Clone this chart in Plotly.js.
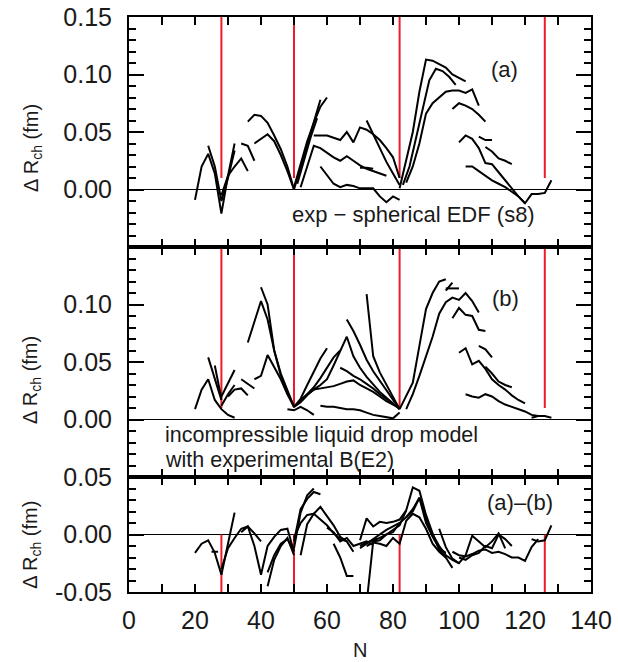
<!DOCTYPE html>
<html>
<head>
<meta charset="utf-8">
<script src="https://cdn.plot.ly/plotly-3.0.1.min.js"></script>
<style>html,body{margin:0;padding:0;background:#fff;}#chart{width:618px;height:662px;}</style>
</head>
<body>
<div id="chart"></div>
<script>
// ---------- magic numbers (red vertical lines) ----------
const magicN = [28, 50, 82, 126];

// ---------- panel (a): exp - spherical EDF (s8) ----------
const a1N = [20,22,24,26,28,30,32];            const a1V = [-0.009,0.020,0.031,0.014,-0.021,0.012,0.040];
const a2N = [24,26,28,30,32];                  const a2V = [0.038,0.020,-0.010,0.010,0.034];
const a3N = [28,30,32,34,36];                  const a3V = [-0.005,0.012,0.020,0.027,0.016];
const a4N = [34,36,38];                        const a4V = [0.040,0.038,0.025];
const a5N = [36,38,40,42,44,46,48,50];         const a5V = [0.059,0.065,0.064,0.058,0.047,0.035,0.020,0.000];
const a6N = [38,40,42,44,46,48,50];            const a6V = [0.040,0.044,0.048,0.042,0.030,0.016,0.000];
const a8N = [50,52,54,56,58];                  const a8V = [0.000,0.020,0.040,0.060,0.078];
const a9N = [50,52,54,56,58,60];               const a9V = [0.002,0.022,0.042,0.058,0.072,0.080];
const a10N = [51,53,55,57];                    const a10V = [0.005,0.025,0.045,0.062];
const a11N = [52,54,56,58,60,62,64,66,68,70,72,74,76,78];
const a11V = [0.002,0.020,0.038,0.036,0.032,0.028,0.025,0.029,0.025,0.021,0.018,0.016,0.014,0.012];
const a12N = [56,58,60,62,64,66,68,70,72,74,76,78,80,82];
const a12V = [0.047,0.047,0.047,0.045,0.043,0.050,0.041,0.054,0.052,0.048,0.043,0.036,0.028,0.010];
const a13N = [72,74,76,78,80,82];              const a13V = [0.060,0.048,0.036,0.024,0.014,0.004];
const a14N = [58,60,62,64,66,68,70,72,74,76,78,80,82];
const a14V = [0.020,0.012,0.005,0.002,0.004,0.003,0.001,0.001,0.001,-0.006,-0.011,-0.006,-0.009];
const a15N = [70,72,74];                       const a15V = [0.019,0.019,0.018];
const a16N = [82,84,86,88,90,92,94,96,98,100,102];
const a16V = [0.001,0.025,0.050,0.085,0.113,0.112,0.109,0.106,0.100,0.097,0.094];
const a17N = [83,85,87,89,91,93,95,97,99];     const a17V = [0.004,0.020,0.045,0.070,0.095,0.105,0.103,0.098,0.091];
const a18N = [84,86,88,90,92,94,96,98,100,102,104,106];
const a18V = [0.006,0.020,0.040,0.066,0.075,0.080,0.085,0.086,0.086,0.084,0.087,0.073];
const a19N = [98,100,102,104,106,108];         const a19V = [0.070,0.075,0.073,0.070,0.065,0.059];
const a20N = [100,102,104,106,108,110,112,114,116,118,120];
const a20V = [0.041,0.047,0.044,0.036,0.023,0.022,0.015,0.008,0.000,-0.006,-0.012];
const a21N = [106,108,110];                    const a21V = [0.046,0.043,0.043];
const a22N = [108,110,112,114,116];            const a22V = [0.037,0.033,0.027,0.025,0.022];
const a23N = [102,104,106,108,110,112,114,116,118,120,122,124,126,128];
const a23V = [0.020,0.020,0.016,0.012,0.008,0.005,0.002,-0.002,-0.006,-0.012,-0.004,-0.004,-0.003,0.008];

// ---------- panel (b): incompressible liquid drop model ----------
const b1N = [20,22,24,26,28,30,32];            const b1V = [0.009,0.026,0.035,0.017,0.009,0.004,0.0015];
const b2N = [24,26,28];                        const b2V = [0.054,0.035,0.017];
const b3N = [26,28];                           const b3V = [0.047,0.018];
const b4N = [28,30,32];                        const b4V = [0.020,0.032,0.043];
const b5N = [28,30,32];                        const b5V = [0.012,0.022,0.030];
const b6N = [30,32,34,36];                     const b6V = [0.020,0.026,0.027,0.021];
const b7N = [34,36,38];                        const b7V = [0.035,0.031,0.027];
const b8N = [38,40,42,44,46,48,50];            const b8V = [0.035,0.038,0.056,0.045,0.035,0.022,0.011];
const b9N = [36,38,40,42,44,46,48,50];         const b9V = [0.067,0.085,0.103,0.087,0.060,0.040,0.025,0.011];
const b10N = [40,42,44,46,48,50];              const b10V = [0.115,0.100,0.060,0.038,0.024,0.011];
const b11N = [48,50,52,54,56];                 const b11V = [0.009,0.008,0.011,0.008,0.004];
const b12N = [50,52,54,56,58,60];              const b12V = [0.011,0.018,0.030,0.042,0.053,0.062];
const b13N = [50,52,54,56,58,60,62,64,66,68,70,72,74,76,78,80,82];
const b13V = [0.011,0.015,0.021,0.026,0.030,0.035,0.047,0.060,0.072,0.055,0.045,0.037,0.030,0.024,0.019,0.014,0.009];
const b14N = [50,52,54,56,58,60,62,64];        const b14V = [0.011,0.016,0.022,0.028,0.036,0.045,0.054,0.060];
const b15N = [52,54,56,58,60,62,64,66,68,70,72,74,76,78,80,82];
const b15V = [0.017,0.022,0.026,0.027,0.028,0.029,0.031,0.033,0.034,0.030,0.027,0.024,0.020,0.016,0.013,0.010];
const b16N = [66,68,70,72,74,76,78,80,82];     const b16V = [0.087,0.077,0.065,0.052,0.042,0.034,0.026,0.017,0.009];
const b17N = [72,74,76,78,80,82];              const b17V = [0.109,0.055,0.041,0.030,0.019,0.009];
const b18N = [58,60,62,64,66,68,70,72,74,76,78,80,82];
const b18V = [0.012,0.011,0.011,0.010,0.009,0.009,0.008,0.006,0.004,0.003,0.002,0.001,0.006];
const b19N = [64,66,68,70,72,74,76,78,80];     const b19V = [0.045,0.042,0.038,0.035,0.031,0.027,0.022,0.018,0.014];
const b20N = [82,84,86,88,90,92,94,96];        const b20V = [0.009,0.020,0.032,0.064,0.096,0.110,0.120,0.122];
const b21N = [96,98];                          const b21V = [0.112,0.119];
const b22N = [96,98,100];                      const b22V = [0.114,0.114,0.114];
const b23N = [84,86,88,90,92,94,96,98,100,102,104,106];
const b23V = [0.009,0.022,0.038,0.055,0.072,0.092,0.102,0.106,0.104,0.110,0.103,0.093];
const b24N = [98,100,102,104,106,108];         const b24V = [0.088,0.097,0.091,0.090,0.078,0.077];
const b25N = [100,102,104,106,108,110,112,114,116,118,120];
const b25V = [0.058,0.062,0.048,0.051,0.044,0.035,0.030,0.026,0.021,0.017,0.014];
const b26N = [106,108,110];                    const b26V = [0.064,0.061,0.054];
const b27N = [108,110,112,114,116];            const b27V = [0.046,0.040,0.033,0.030,0.028];
const b28N = [102,104,106,108,110,112,114,116,118,120,122,124];
const b28V = [0.022,0.020,0.019,0.022,0.020,0.016,0.013,0.011,0.009,0.007,0.004,0.003];
const b29N = [122,124,126,128];                const b29V = [0.0015,0.003,0.003,0.0015];

// ---------- panel (c): (a)-(b) ----------
const c1N = [20,22,24,26,28];                  const c1V = [-0.016,-0.008,-0.005,-0.016,-0.035];
const c2N = [25,27];                           const c2V = [-0.015,-0.015];
const c3N = [28,30,32];                        const c3V = [-0.035,-0.008,0.019];
const c4N = [28,30,32,34,36,38,40];            const c4V = [-0.030,-0.012,-0.003,0.005,0.007,0.001,-0.006];
const c5N = [34,36,38,40,42,44,46,48,50];      const c5V = [0.002,0.007,-0.010,-0.035,-0.010,-0.002,0.004,0.005,-0.015];
const c6N = [42,44,46,48,50];                  const c6V = [-0.045,-0.022,-0.010,-0.003,-0.018];
const c7N = [42,44,46,48,50];                  const c7V = [-0.033,-0.018,-0.008,-0.004,-0.014];
const c8N = [50,52,54,56];                     const c8V = [-0.012,0.019,0.034,0.040];
const c9N = [50,52,54,56,58];                  const c9V = [-0.006,0.022,0.031,0.037,0.035];
const c10N = [50,52,54,56,58,60,62,64,66];     const c10V = [-0.003,0.010,0.017,0.018,0.024,0.016,0.008,-0.002,-0.006];
const c11N = [52,54,56,58,60,62,64,66,68];     const c11V = [-0.018,0.009,0.018,0.013,0.008,0.001,-0.004,-0.006,-0.015];
const c12N = [60,62,64,66,68,70,72,74];        const c12V = [0.006,0.002,-0.006,-0.003,-0.010,-0.008,-0.006,-0.009];
const c13N = [62,64,66,68];                    const c13V = [-0.008,-0.020,-0.036,-0.036];
const c14N = [72,74,76,78,80,82];              const c14V = [-0.060,-0.006,-0.005,0.000,0.002,0.010];
const c15N = [70,72,74,76,78,80,82,84];        const c15V = [-0.005,0.014,0.007,0.011,0.010,0.011,0.013,0.021];
const c16N = [70,72,74,76,78,80,82,84,86,88,90,92,94,96,98];
const c16V = [-0.010,-0.007,-0.005,-0.003,0.000,0.004,0.008,0.021,0.041,0.038,0.017,0.001,-0.013,-0.020,-0.029];
const c17N = [70,72,74,76,78,80,82,84,86,88,90,92,94,96,98,100];
const c17V = [-0.012,-0.008,-0.004,0.000,0.004,0.007,0.010,0.015,0.020,0.032,0.014,0.000,-0.010,-0.018,-0.022,-0.025];
const c18N = [72,74,76,78,80,82,84,86,88,90,92,94,96];
const c18V = [-0.010,-0.007,-0.008,-0.010,-0.003,-0.008,0.012,0.018,0.015,0.005,-0.008,-0.015,-0.020];
const c19N = [94,96,98,100,102,104,106,108,110,112,114];
const c19V = [0.005,-0.011,-0.021,-0.025,-0.018,-0.001,-0.006,-0.011,-0.006,0.001,-0.012];
const c20N = [98,100,102,104,106,108,110,112,114,116,118,120,122,124];
const c20V = [-0.015,-0.018,-0.019,-0.017,-0.014,-0.013,-0.016,-0.015,-0.017,-0.020,-0.020,-0.023,-0.011,-0.004];
const c21N = [100,102,104,106,108,110,112,114,116]; const c21V = [-0.020,-0.022,-0.018,-0.016,-0.010,-0.012,0.000,-0.004,-0.010];
const c22N = [122,124,126,128];                const c22V = [-0.004,-0.006,-0.005,0.008];
const c23N = [84,86,88,90,92,94,96];           const c23V = [0.015,0.022,0.032,0.010,-0.002,-0.012,-0.016];

// ---------- red marker spans per panel ----------
const redSpanAB = [0.01, 0.15];
const redSpanC = [-0.05, 0.0];

// ---------- axes: ranges and tick labels ----------
const xRange = [0, 140];
const rangeAB = [-0.05, 0.15];
const rangeC = [-0.05, 0.05];
const xTickVals = [0,20,40,60,80,100,120,140];
const yTickA = [0, 0.05, 0.10, 0.15];   const yTextA = ['0.00','0.05','0.10','0.15'];
const yTickB = [0, 0.05, 0.10];         const yTextB = ['0.00','0.05','0.10'];
const yTickC = [-0.05, 0, 0.05];        const yTextC = ['-0.05','0.00','0.05'];

const panelA = [[a1N,a1V],[a2N,a2V],[a3N,a3V],[a4N,a4V],[a5N,a5V],[a6N,a6V],[a8N,a8V],[a9N,a9V],[a10N,a10V],[a11N,a11V],[a12N,a12V],[a13N,a13V],[a14N,a14V],[a15N,a15V],[a16N,a16V],[a17N,a17V],[a18N,a18V],[a19N,a19V],[a20N,a20V],[a21N,a21V],[a22N,a22V],[a23N,a23V]];
const panelB = [[b1N,b1V],[b2N,b2V],[b3N,b3V],[b4N,b4V],[b5N,b5V],[b6N,b6V],[b7N,b7V],[b8N,b8V],[b9N,b9V],[b10N,b10V],[b11N,b11V],[b12N,b12V],[b13N,b13V],[b14N,b14V],[b15N,b15V],[b16N,b16V],[b17N,b17V],[b18N,b18V],[b19N,b19V],[b20N,b20V],[b21N,b21V],[b22N,b22V],[b23N,b23V],[b24N,b24V],[b25N,b25V],[b26N,b26V],[b27N,b27V],[b28N,b28V],[b29N,b29V]];
const panelC = [[c1N,c1V],[c2N,c2V],[c3N,c3V],[c4N,c4V],[c5N,c5V],[c6N,c6V],[c7N,c7V],[c8N,c8V],[c9N,c9V],[c10N,c10V],[c11N,c11V],[c12N,c12V],[c13N,c13V],[c14N,c14V],[c15N,c15V],[c16N,c16V],[c17N,c17V],[c18N,c18V],[c19N,c19V],[c20N,c20V],[c21N,c21V],[c22N,c22V],[c23N,c23V]];

const traces = [];
function addRed(xa, ya, span) {
  magicN.forEach(n => traces.push({x:[n,n], y:span, xaxis:xa, yaxis:ya, mode:'lines',
    line:{color:'#ee1c25', width:2}, hoverinfo:'skip', showlegend:false}));
}
function addChains(list, xa, ya) {
  list.forEach(([n,v]) => traces.push({x:n, y:v, xaxis:xa, yaxis:ya, mode:'lines',
    line:{color:'#000', width:2}, showlegend:false}));
}
addRed('x3','y3',redSpanAB); addChains(panelA,'x3','y3');
addRed('x2','y2',redSpanAB); addChains(panelB,'x2','y2');
addRed('x','y',redSpanC);    addChains(panelC,'x','y');

const FONT = 'Liberation Sans, Arial, Helvetica, sans-serif';
const TXT = '#1a1a1a';
function xax(anchor, labels) {
  return {anchor:anchor, domain:[0,1], range:xRange, showgrid:false, zeroline:false,
    showline:true, linecolor:'#000', linewidth:2, mirror:'ticks',
    ticks:'inside', ticklen:8, tickwidth:2, tickcolor:'#000',
    tickmode:'array', tickvals:xTickVals,
    minor:{ticks:'inside', ticklen:8, tickwidth:2, tickcolor:'#000', tickmode:'linear', tick0:0, dtick:10},
    showticklabels:labels, tickfont:{family:FONT, size:25, color:TXT}, ticklabelstandoff:5};
}
function yax(anchor, dom, range, vals, text) {
  return {anchor:anchor, domain:dom, range:range, showgrid:false,
    zeroline:true, zerolinecolor:'#000', zerolinewidth:1,
    showline:true, linecolor:'#000', linewidth:2, mirror:'ticks',
    ticks:'inside', ticklen:15, tickwidth:2, tickcolor:'#000',
    tickmode:'array', tickvals:vals, ticktext:text,
    minor:{ticks:'inside', ticklen:7, tickwidth:2, tickcolor:'#000', tickmode:'linear', tick0:0, dtick:0.01},
    tickfont:{family:FONT, size:25, color:TXT}, ticklabelstandoff:10};
}
function ann(text, x, y, size, extra) {
  return Object.assign({text:text, xref:'paper', yref:'paper', x:x, y:y, xanchor:'center', yanchor:'middle',
    showarrow:false, font:{family:FONT, size:size, color:TXT}}, extra || {});
}

const layout = {
  width:618, height:662, margin:{l:129, r:27, t:17, b:70},
  paper_bgcolor:'#fff', plot_bgcolor:'rgba(0,0,0,0)', showlegend:false,
  font:{family:FONT, color:TXT},
  xaxis: xax('y', true),
  xaxis2: xax('y2', false),
  xaxis3: xax('y3', false),
  yaxis: yax('x', [0,0.2], rangeC, yTickC, yTextC),
  yaxis2: yax('x2', [0.2,0.6], rangeAB, yTickB, yTextB),
  yaxis3: yax('x3', [0.6,1], rangeAB, yTickA, yTextA),
  annotations: [
    ann('(a)', 0.812, 0.908, 22),
    ann('(b)', 0.814, 0.5096, 22),
    ann('(a)\u2013(b)', 0.922, 0.155, 22, {xanchor:'right'}),
    ann('exp \u2212 spherical EDF (s8)', 0.615, 0.6557, 22),
    ann('incompressible liquid drop model', 0.0736, 0.2730, 21.5, {xanchor:'left'}),
    ann('with experimental B(E2)', 0.0736, 0.2296, 21.5, {xanchor:'left'}),
    ann('\u0394 R<sub>ch</sub> (fm)', -0.21, 0.772, 20, {textangle:-90}),
    ann('\u0394 R<sub>ch</sub> (fm)', -0.21, 0.3687, 20, {textangle:-90}),
    ann('\u0394 R<sub>ch</sub> (fm)', -0.21, 0.082, 20, {textangle:-90}),
    ann('N', 0.5, -0.100, 20)
  ]
};

Plotly.newPlot('chart', traces, layout, {staticPlot:true, displayModeBar:false});
</script>
</body>
</html>
